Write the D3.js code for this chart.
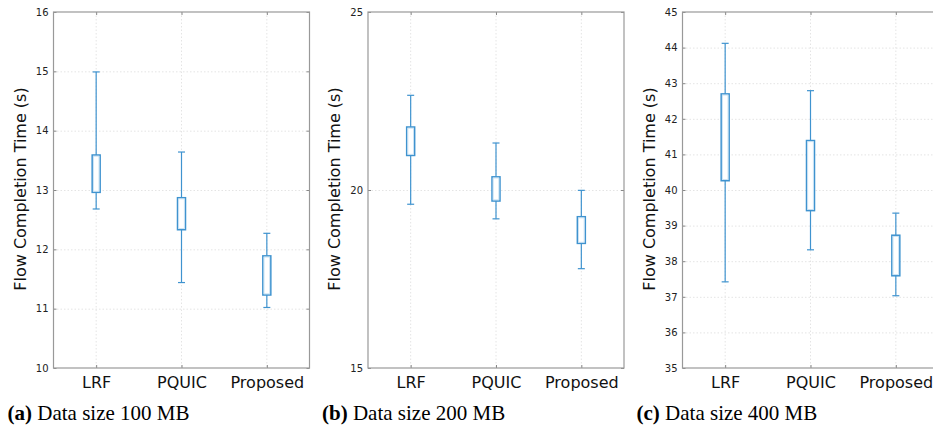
<!DOCTYPE html>
<html>
<head>
<meta charset="utf-8">
<script src="https://cdn.jsdelivr.net/npm/d3@7"></script>
<style>
  body { margin: 0; background: #fff; }
  svg { display: block; }
</style>
</head>
<body>
<svg id="chart" width="933" height="429"></svg>
<script>
// data
const categories = ['LRF', 'PQUIC', 'Proposed'];

// [lower whisker, q1, q3, upper whisker] per category
const size100 = [[12.68, 12.96, 13.59, 14.99], [11.44, 12.33, 12.87, 13.64], [11.02, 11.23, 11.89, 12.27]];
const size200 = [[19.60, 20.97, 21.77, 22.66], [19.19, 19.69, 20.37, 21.32], [17.79, 18.50, 19.25, 19.99]];
const size400 = [[37.42, 40.26, 42.70, 44.12], [38.32, 39.42, 41.39, 42.79], [37.03, 37.59, 38.73, 39.35]];

const ticks100 = [10, 11, 12, 13, 14, 15, 16];
const ticks200 = [15, 20, 25];
const ticks400 = [35, 36, 37, 38, 39, 40, 41, 42, 43, 44, 45];

const captionTags = ['(a)', '(b)', '(c)'];
const captionTexts = [' Data size 100 MB', ' Data size 200 MB', ' Data size 400 MB'];

const yLabel = 'Flow Completion Time (s)';

const panels = [
  { left: 53.5, data: size100, ticks: ticks100 },
  { left: 368, data: size200, ticks: ticks200 },
  { left: 682.5, data: size400, ticks: ticks400 }
];

const plotTop = 12, plotBottom = 368, plotW = 256;
const blue = '#3f93cf';
const svg = d3.select('#chart');

panels.forEach((p, i) => {
  const g = svg.append('g').attr('transform', `translate(${p.left},0)`);
  const x = d3.scalePoint().domain(categories).range([0, plotW]).padding(0.5);
  const y = d3.scaleLinear().domain(d3.extent(p.ticks)).range([plotBottom, plotTop]);

  // grid
  g.append('g').selectAll('line').data(p.ticks.slice(1, -1)).join('line')
    .attr('x1', 0).attr('x2', plotW)
    .attr('y1', d => y(d) + 0.5).attr('y2', d => y(d) + 0.5)
    .attr('stroke', '#e4e4e4').attr('stroke-dasharray', '1.5,2');
  g.append('g').selectAll('line').data(categories).join('line')
    .attr('x1', d => x(d)).attr('x2', d => x(d))
    .attr('y1', plotTop).attr('y2', plotBottom)
    .attr('stroke', '#e4e4e4').attr('stroke-dasharray', '1.5,2');

  // axes
  const yAxis = d3.axisLeft(y).tickValues(p.ticks).tickFormat(d3.format('d')).tickSize(-3).tickPadding(5);
  const ya = g.append('g').call(yAxis);
  ya.select('.domain').remove();
  ya.selectAll('line').attr('stroke', '#888');
  ya.selectAll('text').attr('font-family', 'DejaVu Sans, sans-serif').attr('font-size', 10).attr('fill', '#222');

  const yRight = g.append('g').attr('transform', `translate(${plotW},0)`)
    .call(d3.axisRight(y).tickValues(p.ticks).tickSize(-3).tickFormat(''));
  yRight.select('.domain').remove();
  yRight.selectAll('line').attr('stroke', '#888');

  const xa = g.append('g').attr('transform', `translate(0,${plotBottom})`)
    .call(d3.axisBottom(x).tickSize(-3).tickPadding(9));
  xa.select('.domain').remove();
  xa.selectAll('line').attr('stroke', '#888');
  xa.selectAll('text').attr('font-family', 'DejaVu Sans, sans-serif').attr('font-size', 16).attr('fill', '#111');

  const xTop = g.append('g').attr('transform', `translate(0,${plotTop})`)
    .call(d3.axisTop(x).tickSize(-3).tickFormat(''));
  xTop.select('.domain').remove();
  xTop.selectAll('line').attr('stroke', '#888');

  // frame
  g.append('rect').attr('x', 0).attr('y', plotTop).attr('width', plotW).attr('height', plotBottom - plotTop)
    .attr('fill', 'none').attr('stroke', '#999').attr('stroke-width', 1.2);

  // boxes
  const box = g.append('g').selectAll('g').data(p.data).join('g')
    .attr('transform', (d, k) => `translate(${x(categories[k])},0)`);
  box.append('line').attr('x1', 0).attr('x2', 0)
    .attr('y1', d => y(d[0])).attr('y2', d => y(d[1]))
    .attr('stroke', blue).attr('stroke-width', 1.2);
  box.append('line').attr('x1', 0).attr('x2', 0)
    .attr('y1', d => y(d[2])).attr('y2', d => y(d[3]))
    .attr('stroke', blue).attr('stroke-width', 1.2);
  box.append('line').attr('x1', -3.5).attr('x2', 3.5)
    .attr('y1', d => y(d[0])).attr('y2', d => y(d[0]))
    .attr('stroke', blue).attr('stroke-width', 1.2);
  box.append('line').attr('x1', -3.5).attr('x2', 3.5)
    .attr('y1', d => y(d[3])).attr('y2', d => y(d[3]))
    .attr('stroke', blue).attr('stroke-width', 1.2);
  box.append('rect').attr('x', -4).attr('width', 8)
    .attr('y', d => y(d[2])).attr('height', d => y(d[1]) - y(d[2]))
    .attr('fill', '#fff').attr('stroke', blue).attr('stroke-width', 1.5);
  box.append('rect').attr('x', -2.8).attr('width', 5.6)
    .attr('y', d => y(d[2]) + 1.2).attr('height', d => y(d[1]) - y(d[2]) - 2.4)
    .attr('fill', 'none').attr('stroke', '#c2def2').attr('stroke-width', 0.8);

  // y label
  g.append('text')
    .attr('transform', `translate(${-28},${(plotTop + plotBottom) / 2 - 1}) rotate(-90)`)
    .attr('text-anchor', 'middle')
    .attr('font-family', 'DejaVu Sans, sans-serif').attr('font-size', 16).attr('fill', '#111')
    .text(yLabel);

  // caption
  const cap = svg.append('text')
    .attr('x', p.left - 46).attr('y', 420)
    .attr('font-family', 'Liberation Serif, Times New Roman, serif').attr('font-size', 21).attr('fill', '#000');
  cap.append('tspan').attr('font-weight', 'bold').text(captionTags[i]);
  cap.append('tspan').text(captionTexts[i]);
});
</script>
</body>
</html>
